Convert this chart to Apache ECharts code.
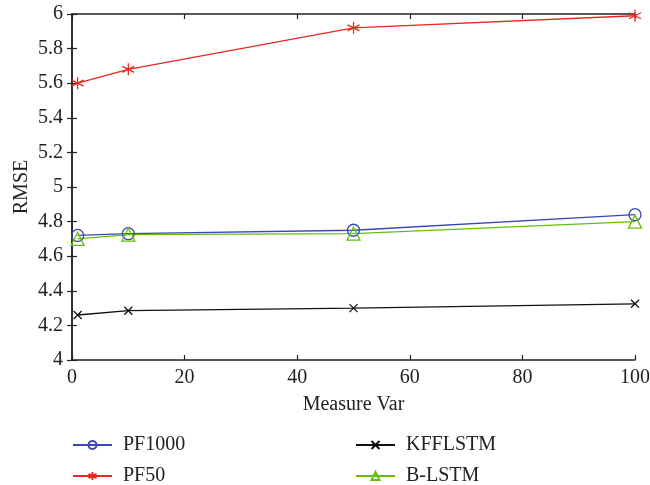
<!DOCTYPE html>
<html><head><meta charset="utf-8">
<script src="https://cdn.jsdelivr.net/npm/echarts@6/dist/echarts.min.js"></script>
<style>html,body{margin:0;padding:0;background:#fff}#c{width:650px;height:485px}</style>
</head><body><div id="c"></div>
<script>
var xValues = [1, 10, 50, 100];
var pf1000 = [4.72, 4.73, 4.75, 4.84];
var pf50 = [5.60, 5.68, 5.92, 5.99];
var kfflstm = [4.26, 4.285, 4.30, 4.325];
var blstm = [4.70, 4.725, 4.73, 4.80];
var seriesNames = ['PF1000', 'PF50', 'KFFLSTM', 'B-LSTM'];

function pairs(ys){ return xValues.map(function(x,i){ return [x, ys[i]]; }); }
var FONT = 'Liberation Serif';
var FS = 20;
var starPath = 'path://M0,-10L0,10M-8.66,-5L8.66,5M-8.66,5L8.66,-5';
var xPath = 'path://M-7,-7L7,7M-7,7L7,-7';

function mk(name, data, color, symbol, size){
  return {
    name: name, type: 'line', data: pairs(data), symbol: symbol, symbolSize: size,
    lineStyle: {color: color, width: 1.3},
    itemStyle: {color: 'rgba(255,255,255,0)', borderColor: color, borderWidth: 1.3},
    emphasis: {disabled: true}, animation: false, z: 3
  };
}

var chart = echarts.init(document.getElementById('c'));
var axisCommon = {
  axisLine: {show: true, lineStyle: {color: '#222', width: 1.5}},
  axisTick: {show: true, inside: true, length: 5, lineStyle: {color: '#222', width: 1.2}},
  splitLine: {show: false}
};
var legendText = {fontFamily: FONT, fontSize: FS, color: '#222', padding: [0, 0, 0, 6]};
function leg(name, left, top){
  return {data: [name], left: left, top: top, padding: 0, itemWidth: 39, itemHeight: 10, textStyle: legendText};
}
chart.setOption({
  animation: false,
  grid: {left: 72, right: 15, top: 14, bottom: 125, containLabel: false, outerBoundsMode: 'none'},
  textStyle: {fontFamily: FONT},
  xAxis: [
    Object.assign({type: 'value', min: 0, max: 100, interval: 20, position: 'bottom',
      name: 'Measure Var', nameLocation: 'middle', nameGap: 35,
      nameTextStyle: {fontFamily: FONT, fontSize: FS, color: '#222'},
      axisLabel: {fontFamily: FONT, fontSize: FS, color: '#222', margin: 8}}, axisCommon),
    Object.assign({type: 'value', min: 0, max: 100, interval: 20, position: 'top',
      axisLabel: {show: false}}, axisCommon)
  ],
  yAxis: [
    Object.assign({type: 'value', min: 4, max: 6, interval: 0.2, position: 'left',
      name: 'RMSE', nameLocation: 'middle', nameGap: 40, nameRotate: 90, nameMoveOverlap: false,
      nameTextStyle: {fontFamily: FONT, fontSize: FS, color: '#222'},
      axisLabel: {fontFamily: FONT, fontSize: FS, color: '#222', margin: 9}}, axisCommon),
    Object.assign({type: 'value', min: 4, max: 6, interval: 0.2, position: 'right',
      axisLabel: {show: false}}, axisCommon)
  ],
  legend: [
    leg('PF1000', 72, 435),
    leg('PF50', 72, 466),
    leg('KFFLSTM', 355, 435),
    leg('B-LSTM', 355, 466)
  ],
  series: [
    mk(seriesNames[0], pf1000, '#3D47B4', 'circle', 12),
    mk(seriesNames[1], pf50, '#E8281E', starPath, 12),
    mk(seriesNames[2], kfflstm, '#111111', xPath, 8),
    mk(seriesNames[3], blstm, '#64C00C', 'triangle', 13)
  ]
});
</script></body></html>
